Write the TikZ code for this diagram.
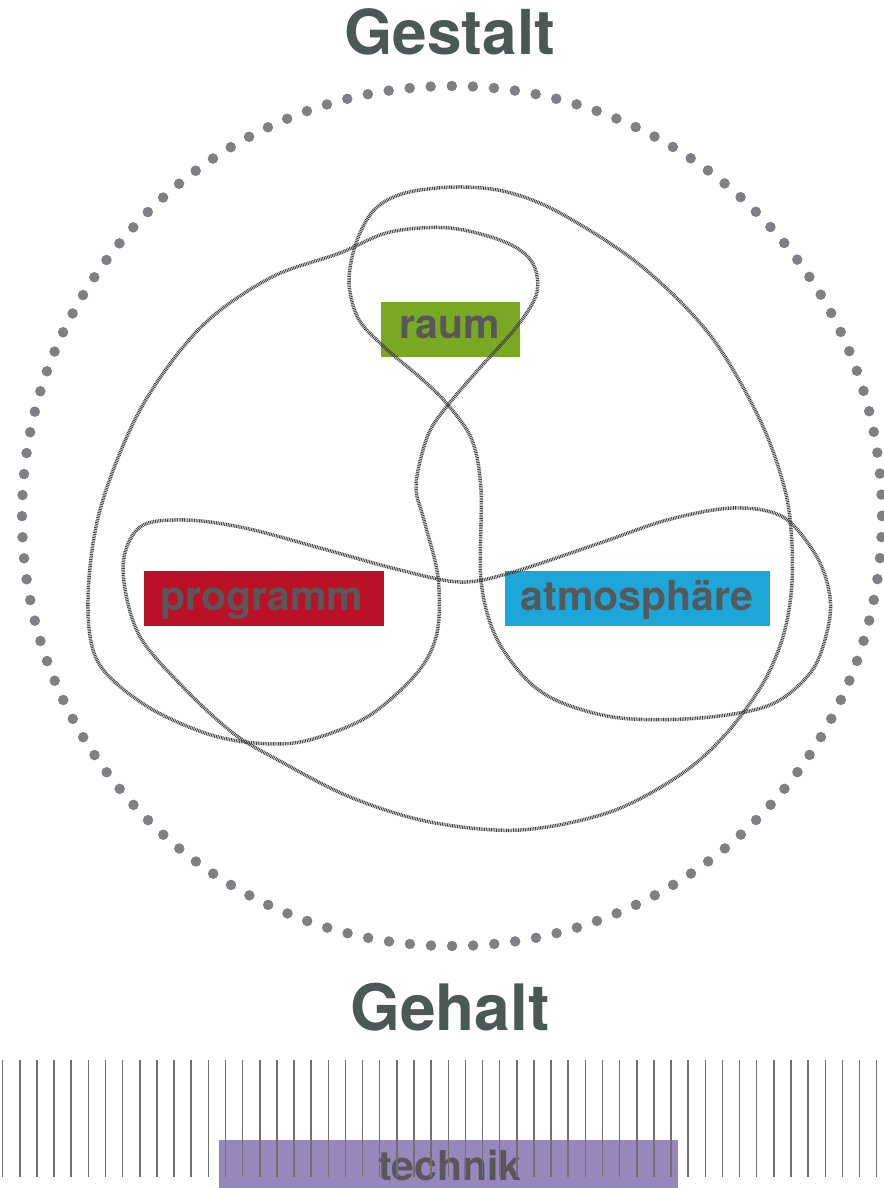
\documentclass[tikz,border=0pt]{standalone}
\usepackage{fontspec}
\setmainfont{TeX Gyre Heros}
\definecolor{titlecol}{HTML}{4B5856}
\definecolor{labelcol}{HTML}{58585B}
\definecolor{raumcol}{HTML}{7BA822}
\definecolor{progcol}{HTML}{BA1127}
\definecolor{atmocol}{HTML}{1CA7D8}
\definecolor{techcol}{HTML}{9688BB}
\definecolor{dotcol}{HTML}{808084}
\definecolor{hatchcol}{HTML}{444444}
\definecolor{barcol}{HTML}{707070}
\tikzset{
  titletext/.style={text=titlecol, font=\fontsize{62}{62}\selectfont\bfseries, inner sep=0pt, anchor=base},
  labeltext/.style={text=labelcol, font=\fontsize{41}{41}\selectfont\bfseries, inner sep=0pt, anchor=base},
  hatched/.style={draw=hatchcol, line width=3.5pt, dash pattern=on 0.9pt off 0.8pt},
  dotring/.style={draw=dotcol, line width=10.5pt, line cap=round, dash pattern=on 0pt off 21.108pt},
  bar/.style={draw=barcol, line width=1.5pt}
}
\begin{document}
\begin{tikzpicture}[x=1pt,y=-1pt]
\useasboundingbox (0,0) rectangle (883,1188);
% titles
\node[titletext] (gestalt) at (450,55) {Gestalt};
\node[titletext, font=\fontsize{64}{64}\selectfont\bfseries] (gehalt) at (450,1030) {Gehalt};
% dotted ring
\draw[dotring] (452,516) circle[radius=430];
% label boxes
\fill[raumcol] (381,302) rectangle (520,357);
\fill[progcol] (144,571) rectangle (384,626);
\fill[atmocol] (505,571) rectangle (770,626);
\fill[techcol] (219,1140) rectangle (678,1188);
\node[labeltext] (raum) at (449.5,338) {raum};
\node[labeltext] (programm) at (261.5,610) {programm};
\node[labeltext] (atmo) at (637,610) {atmosphäre};
\node[labeltext] (technik) at (450,1180) {technik};
% curve A
\draw[hatched] plot[smooth cycle, tension=0.55] coordinates {
 (416,485) (428,435) (448,405) (478,370) (518,325) (537,292) (532,262) (505,242)
 (450,228) (390,232) (340,253) (270,278) (200,328) (140,410) (100,510) (88,600)
 (98,662) (145,705) (205,733) (255,743) (305,741) (367,717) (417,673) (437,633)
 (438,577) (424,520)};
% curve B
\draw[hatched] plot[smooth cycle, tension=0.55] coordinates {
 (448,405) (423,380) (382,345) (358,318) (349,282) (356,243) (374,210) (405,193)
 (457,187) (507,192) (560,213) (640,265) (710,335) (760,420) (785,490) (792,545)
 (791,595) (782,640) (762,685) (725,735) (680,775) (610,812) (520,830) (430,822)
 (350,797) (278,760) (233,733) (183,687) (138,633) (123,567) (140,527) (185,520)
 (245,528) (320,548) (400,570) (460,582) (510,573) (600,543) (667,520) (733,508)
 (783,517) (817,557) (830,597) (827,632) (811,672) (770,705) (700,718) (620,718)
 (560,702) (525,678) (495,635) (481,580) (481,490) (472,440)};
% bars
\foreach \i in {0,...,51}{
  \draw[bar] ({2.7+17.137*\i},1060) -- ({2.7+17.137*\i},1177);
}
\end{tikzpicture}
\end{document}
